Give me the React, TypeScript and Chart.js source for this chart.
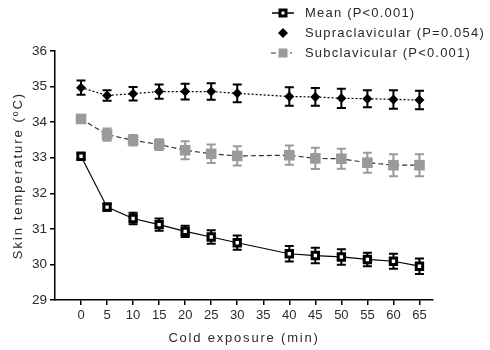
import React, { useEffect, useRef } from 'react';
import { Chart, registerables } from 'chart.js';

Chart.register(...registerables);

const times = [0, 5, 10, 15, 20, 25, 30, 40, 45, 50, 55, 60, 65];
const meanValues = [33.04, 31.61, 31.29, 31.12, 30.93, 30.77, 30.61, 30.3, 30.25, 30.21, 30.14, 30.09, 29.95];
const meanErrors = [0.08, 0.1, 0.16, 0.17, 0.16, 0.19, 0.2, 0.22, 0.22, 0.22, 0.19, 0.21, 0.22];
const supraValues = [34.97, 34.75, 34.8, 34.86, 34.86, 34.86, 34.81, 34.72, 34.71, 34.67, 34.66, 34.64, 34.62];
const supraErrors = [0.2, 0.15, 0.19, 0.2, 0.22, 0.23, 0.25, 0.26, 0.25, 0.27, 0.24, 0.26, 0.26];
const subValues = [34.09, 33.65, 33.49, 33.37, 33.21, 33.11, 33.05, 33.07, 32.98, 32.97, 32.86, 32.79, 32.79];
const subErrors = [0.1, 0.17, 0.15, 0.15, 0.25, 0.26, 0.27, 0.27, 0.3, 0.28, 0.28, 0.31, 0.31];
const xTicks = [0, 5, 10, 15, 20, 25, 30, 35, 40, 45, 50, 55, 60, 65];
const yTicks = [29, 30, 31, 32, 33, 34, 35, 36];
const legendLabels = ['Mean (P<0.001)', 'Supraclavicular (P=0.054)', 'Subclavicular (P<0.001)'];
const xTitle = 'Cold exposure (min)';
const yTitle = 'Skin temperature (ºC)';

const FONT = "'Liberation Sans', Arial, sans-serif";
const GRAY = '#9a9a9a';

const errorSets = [
  { values: meanValues, errors: meanErrors, color: '#000' },
  { values: supraValues, errors: supraErrors, color: '#000' },
  { values: subValues, errors: subErrors, color: GRAY },
];

const errorBarPlugin = {
  id: 'errorBars',
  beforeDatasetsDraw(chart: any) {
    const ctx = chart.ctx;
    const xs = chart.scales.x;
    const ys = chart.scales.y;
    errorSets.forEach((set) => {
      ctx.save();
      ctx.strokeStyle = set.color;
      ctx.lineWidth = 2;
      times.forEach((t, j) => {
        const x = xs.getPixelForValue(t);
        const yt = ys.getPixelForValue(set.values[j] + set.errors[j]);
        const yb = ys.getPixelForValue(set.values[j] - set.errors[j]);
        ctx.beginPath();
        ctx.moveTo(x, yt);
        ctx.lineTo(x, yb);
        ctx.moveTo(x - 4.5, yt);
        ctx.lineTo(x + 4.5, yt);
        ctx.moveTo(x - 4.5, yb);
        ctx.lineTo(x + 4.5, yb);
        ctx.stroke();
      });
      ctx.restore();
    });
  },
};

const decorPlugin = {
  id: 'decor',
  afterDraw(chart: any) {
    const ctx = chart.ctx;
    const area = chart.chartArea;
    ctx.save();
    ctx.fillStyle = '#2a2a2a';
    ctx.font = `13px ${FONT}`;
    (ctx as any).letterSpacing = '1.8px';
    ctx.textAlign = 'center';
    ctx.textBaseline = 'middle';
    ctx.fillText(xTitle, (area.left + area.right) / 2, 338);
    ctx.save();
    ctx.translate(18, (area.top + area.bottom) / 2);
    ctx.rotate(-Math.PI / 2);
    (ctx as any).letterSpacing = '2px';
    ctx.fillText(yTitle, 0, 0);
    ctx.restore();

    const mx = 283;
    const rows = [13, 33, 53];
    ctx.strokeStyle = '#000';
    ctx.lineWidth = 1.5;
    ctx.beginPath();
    ctx.moveTo(272, rows[0]);
    ctx.lineTo(294, rows[0]);
    ctx.stroke();
    ctx.fillStyle = '#000';
    ctx.fillRect(mx - 4.5, rows[0] - 4.5, 9, 9);
    ctx.fillStyle = '#fff';
    ctx.fillRect(mx - 1.5, rows[0] - 1.5, 3, 3);
    ctx.fillStyle = '#000';
    ctx.beginPath();
    ctx.moveTo(mx, rows[1] - 5);
    ctx.lineTo(mx + 5, rows[1]);
    ctx.lineTo(mx, rows[1] + 5);
    ctx.lineTo(mx - 5, rows[1]);
    ctx.closePath();
    ctx.fill();
    ctx.strokeStyle = '#333';
    ctx.lineWidth = 1.2;
    ctx.beginPath();
    ctx.moveTo(271, rows[2]);
    ctx.lineTo(276, rows[2]);
    ctx.moveTo(290, rows[2]);
    ctx.lineTo(292, rows[2]);
    ctx.stroke();
    ctx.fillStyle = GRAY;
    ctx.fillRect(mx - 4.5, rows[2] - 4.5, 9, 9);

    ctx.fillStyle = '#2a2a2a';
    ctx.font = `13px ${FONT}`;
    (ctx as any).letterSpacing = '1.2px';
    ctx.textAlign = 'left';
    legendLabels.forEach((l, i) => ctx.fillText(l, 305, rows[i]));
    ctx.restore();
  },
};

export default function App() {
  const ref = useRef<HTMLCanvasElement | null>(null);
  useEffect(() => {
    if (!ref.current) return;
    const toXY = (vals: number[]) => times.map((t, i) => ({ x: t, y: vals[i] }));
    const chart = new Chart(ref.current, {
      type: 'line',
      data: {
        datasets: [
          {
            label: legendLabels[0],
            data: toXY(meanValues),
            borderColor: '#000',
            borderWidth: 1.2,
            pointStyle: 'rect',
            pointRadius: 4.5,
            pointBackgroundColor: '#fff',
            pointBorderColor: '#000',
            pointBorderWidth: 3,
            fill: false,
          },
          {
            label: legendLabels[1],
            data: toXY(supraValues),
            borderColor: '#000',
            borderWidth: 1.2,
            borderDash: [2, 2],
            pointStyle: 'rectRot',
            pointRadius: 5,
            pointBackgroundColor: '#000',
            pointBorderColor: '#000',
            pointBorderWidth: 0,
            fill: false,
          },
          {
            label: legendLabels[2],
            data: toXY(subValues),
            borderColor: '#333',
            borderWidth: 1.2,
            borderDash: [5, 3],
            pointStyle: 'rect',
            pointRadius: 7.5,
            pointBackgroundColor: GRAY,
            pointBorderColor: GRAY,
            pointBorderWidth: 0,
            fill: false,
          },
        ],
      } as any,
      options: {
        responsive: false,
        animation: false,
        layout: { padding: { top: 51, right: 57, left: 0, bottom: 0 } },
        plugins: { legend: { display: false }, tooltip: { enabled: false } },
        scales: {
          x: {
            type: 'linear',
            min: -5,
            max: 67.6,
            afterBuildTicks: (s: any) => {
              s.ticks = xTicks.map((v) => ({ value: v }));
            },
            afterFit: (s: any) => {
              s.height = 50;
            },
            grid: { drawOnChartArea: false, drawTicks: true, tickLength: 5, color: '#000', lineWidth: 1.5 },
            border: { color: '#000', width: 1.5 },
            ticks: { color: '#2a2a2a', font: { family: FONT, size: 13 }, padding: 3, maxRotation: 0, autoSkip: false },
          },
          y: {
            type: 'linear',
            min: 29,
            max: 36,
            afterBuildTicks: (s: any) => {
              s.ticks = yTicks.map((v) => ({ value: v }));
            },
            afterFit: (s: any) => {
              s.width = 55;
            },
            grid: { drawOnChartArea: false, drawTicks: true, tickLength: 5, color: '#000', lineWidth: 1.5 },
            border: { color: '#000', width: 1.5 },
            ticks: { color: '#2a2a2a', font: { family: FONT, size: 13.5 }, padding: 3 },
          },
        },
      } as any,
      plugins: [errorBarPlugin, decorPlugin],
    });
    return () => chart.destroy();
  }, []);
  return (
    <div style={{ position: 'absolute', left: 0, top: 0, width: 490, height: 350, background: '#fff' }}>
      <canvas ref={ref} width={490} height={350} style={{ display: 'block' }} />
    </div>
  );
}
